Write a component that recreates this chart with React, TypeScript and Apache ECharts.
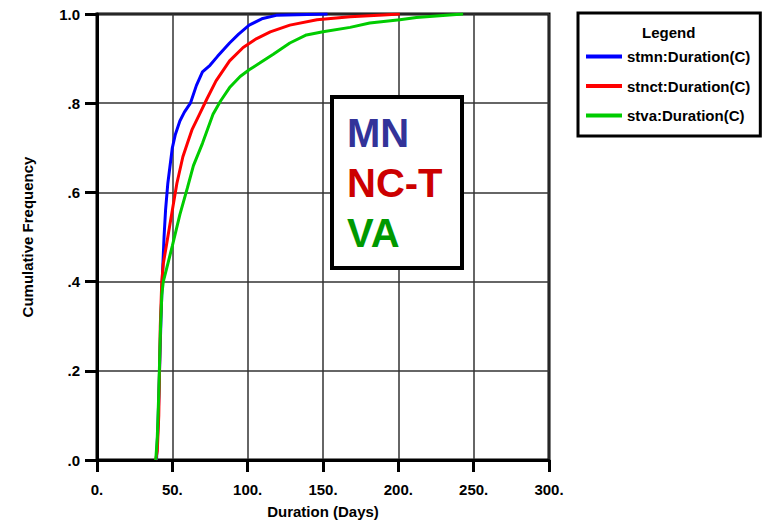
import React, { useEffect, useRef } from "react";
import * as echarts from "echarts";

const seriesNames = ["stmn:Duration(C)", "stnct:Duration(C)", "stva:Duration(C)"];
const seriesColors = ["#0000ff", "#ff0000", "#00cc00"];

const mnDays = [39.5, 40.5, 41.5, 42.5, 43.5, 44.5, 45.5, 47, 50, 52, 55, 58, 62, 66, 70, 75, 80, 88, 94, 101, 110, 119, 153];
const mnFreq = [0, 0.08, 0.2, 0.32, 0.42, 0.5, 0.56, 0.62, 0.7, 0.73, 0.76, 0.78, 0.8, 0.84, 0.87, 0.885, 0.905, 0.935, 0.955, 0.975, 0.99, 0.997, 1.0];

const nctDays = [39, 40, 41, 42, 43, 44, 46, 48, 50, 53, 57, 60, 63, 68, 73, 79, 88, 97, 106, 115, 128, 146, 168, 190, 201];
const nctFreq = [0, 0.02, 0.1, 0.3, 0.4, 0.44, 0.48, 0.52, 0.56, 0.62, 0.68, 0.71, 0.74, 0.775, 0.81, 0.85, 0.895, 0.925, 0.945, 0.96, 0.975, 0.987, 0.994, 0.998, 1.0];

const vaDays = [39, 40, 41, 42, 43, 44, 47, 50, 55, 60, 64, 70, 77, 82, 88, 95, 101, 108, 117, 128, 139, 150, 168, 181, 201, 212, 234, 243];
const vaFreq = [0, 0.05, 0.15, 0.28, 0.37, 0.4, 0.44, 0.48, 0.55, 0.61, 0.66, 0.71, 0.775, 0.805, 0.835, 0.86, 0.875, 0.89, 0.91, 0.935, 0.953, 0.96, 0.97, 0.98, 0.987, 0.992, 0.998, 1.0];

const annotationLabels = ["MN", "NC-T", "VA"];
const annotationColors = ["#333399", "#cc0000", "#009900"];

const FONT = "'Liberation Sans', Arial, Helvetica, sans-serif";

function pairs(d: number[], f: number[]) {
  return d.map((v, i) => [v, f[i]]);
}

export default function App() {
  const ref = useRef<HTMLDivElement>(null);
  useEffect(() => {
    if (!ref.current) return;
    document.body.style.margin = "0";
    const chart = echarts.init(ref.current, null, { renderer: "svg" });
    const data = [pairs(mnDays, mnFreq), pairs(nctDays, nctFreq), pairs(vaDays, vaFreq)];
    chart.setOption({
      animation: false,
      backgroundColor: "#ffffff",
      textStyle: { fontFamily: FONT },
      grid: {
        left: 97,
        right: 218,
        top: 14,
        bottom: 64,
        show: true,
        borderColor: "#000",
        borderWidth: 3,
        backgroundColor: "transparent",
      },
      xAxis: {
        type: "value",
        min: 0,
        max: 300,
        interval: 50,
        name: "Duration (Days)",
        nameLocation: "middle",
        nameGap: 44,
        nameTextStyle: { fontSize: 15, fontWeight: "bold", color: "#000", fontFamily: FONT },
        axisLine: { show: true, lineStyle: { color: "#000", width: 3 } },
        axisTick: { show: true, length: 12, lineStyle: { color: "#000", width: 3 } },
        axisLabel: {
          margin: 22,
          fontSize: 15,
          fontWeight: "bold",
          color: "#000",
          fontFamily: FONT,
          formatter: (v: number) => `${v}.`,
        },
        splitLine: { show: true, lineStyle: { color: "#333", width: 1.5 } },
      },
      yAxis: {
        type: "value",
        min: 0,
        max: 1,
        interval: 0.2,
        name: "Cumulative Frequency",
        nameLocation: "middle",
        nameGap: 62,
        nameTextStyle: { fontSize: 15, fontWeight: "bold", color: "#000", fontFamily: FONT },
        axisLine: { show: true, lineStyle: { color: "#000", width: 3 } },
        axisTick: { show: true, length: 12, lineStyle: { color: "#000", width: 3 } },
        axisLabel: {
          margin: 17,
          fontSize: 15,
          fontWeight: "bold",
          color: "#000",
          fontFamily: FONT,
          formatter: (v: number) => {
            const r = Math.round(v * 10);
            return r === 10 ? "1.0" : `.${r}`;
          },
        },
        splitLine: { show: true, lineStyle: { color: "#333", width: 1.5 } },
      },
      legend: {
        show: true,
        orient: "vertical",
        left: 578,
        top: 13,
        padding: [36, 10, 13, 8],
        itemGap: 14.5,
        itemWidth: 36,
        itemHeight: 4,
        icon: "rect",
        borderColor: "#000",
        borderWidth: 3,
        backgroundColor: "#fff",
        data: seriesNames,
        textStyle: { fontSize: 15, fontWeight: "bold", color: "#000", fontFamily: FONT },
      },
      series: seriesNames.map((name, i) => ({
        name,
        type: "line",
        data: data[i],
        showSymbol: false,
        symbol: "none",
        color: seriesColors[i],
        lineStyle: { color: seriesColors[i], width: 3 },
        z: 3 + i,
      })),
      graphic: [
        {
          type: "text",
          left: 642,
          top: 25,
          z: 100,
          style: {
            text: "Legend",
            fontSize: 15,
            fontWeight: "bold",
            fontFamily: FONT,
            fill: "#000",
          },
        },
        {
          type: "rect",
          z: 50,
          shape: { x: 332, y: 97, width: 130, height: 171 },
          style: { fill: "#fff", stroke: "#000", lineWidth: 4 },
        },
        ...annotationLabels.map((t, i) => ({
          type: "text",
          z: 60,
          x: 347,
          y: 133 + i * 50,
          style: {
            text: t,
            fontSize: 40,
            fontWeight: "bold",
            fontFamily: FONT,
            fill: annotationColors[i],
            verticalAlign: "middle",
            textVerticalAlign: "middle",
          },
        })),
      ],
    });
    return () => chart.dispose();
  }, []);
  return <div ref={ref} style={{ width: 767, height: 524, position: "fixed", left: 0, top: 0 }} />;
}
